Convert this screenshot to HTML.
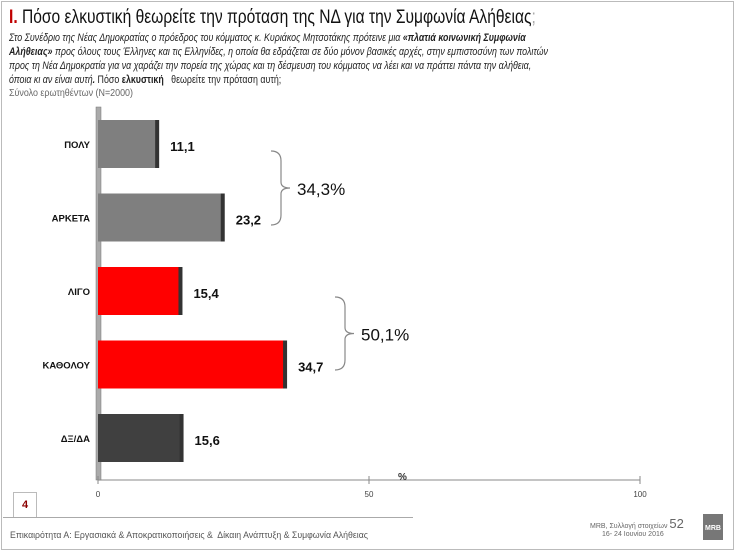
<!DOCTYPE html>
<html><head><meta charset="utf-8"><style>
body{margin:0;width:735px;height:551px;background:#fff;overflow:hidden;font-family:"Liberation Sans","DejaVu Sans",sans-serif}
.frame{position:absolute;left:1px;top:1px;width:731px;height:547px;border:1px solid #bbb}
.ql{white-space:nowrap;transform:scaleX(0.82);transform-origin:left;height:14px}
</style></head><body>
<div class="frame"></div>
<div style="position:absolute;left:9px;top:7px;font-size:19px;color:#111;white-space:nowrap;transform:scaleX(0.82);transform-origin:left"><span style="color:#c00000;font-weight:bold">I.</span> Πόσο ελκυστική θεωρείτε την πρόταση της ΝΔ για την Συμφωνία Αλήθειας<span style="color:#aaa">;</span></div>
<div style="position:absolute;left:9px;top:31px;font-size:10.8px;line-height:14px;font-style:italic;color:#222">
<div class="ql">Στο Συνέδριο της Νέας Δημοκρατίας ο πρόεδρος του κόμματος κ. Κυριάκος Μητσοτάκης πρότεινε μια <b>«πλατιά κοινωνική Συμφωνία</b></div>
<div class="ql"><b>Αλήθειας»</b> προς όλους τους Έλληνες και τις Ελληνίδες, η οποία θα εδράζεται σε δύο μόνον βασικές αρχές, στην εμπιστοσύνη των πολιτών</div>
<div class="ql">προς τη Νέα Δημοκρατία για να χαράζει την πορεία της χώρας και τη δέσμευση του κόμματος να λέει και να πράττει πάντα την αλήθεια,</div>
<div class="ql">όποια κι αν είναι αυτή<b>.</b> <span style="font-style:normal">Πόσο <b>ελκυστική</b> &nbsp; θεωρείτε την πρόταση αυτή;</span></div>
</div>
<div style="position:absolute;left:9px;top:87px;font-size:10.5px;color:#666;transform:scaleX(0.85);transform-origin:left;white-space:nowrap">Σύνολο ερωτηθέντων (Ν=2000)</div>
<svg id="chart" width="735" height="551" style="position:absolute;left:0;top:0"></svg>
<div style="position:absolute;left:13px;top:492px;width:22px;height:24px;border:1px solid #bbb;color:#8b0000;font-weight:bold;font-size:11px;text-align:center;line-height:24px">4</div>
<div style="position:absolute;left:3px;top:517px;width:410px;height:1px;background:#aaa"></div>
<div style="position:absolute;left:10px;top:530px;font-size:9.5px;color:#555;white-space:nowrap;transform:scaleX(0.92);transform-origin:left">Επικαιρότητα Α: Εργασιακά &amp; Αποκρατικοποιήσεις &amp;&nbsp; Δίκαιη Ανάπτυξη &amp; Συμφωνία Αλήθειας</div>
<div style="position:absolute;left:590px;top:516px;font-size:7px;color:#666;white-space:nowrap">MRB, Συλλογή στοιχείων <span style="font-size:13px">52</span></div>
<div style="position:absolute;left:602px;top:531px;font-size:7px;color:#666;white-space:nowrap">16- 24 Ιουνίου 2016</div>
<div style="position:absolute;left:703px;top:514px;width:20px;height:26px;background:#777;color:#fff;font-size:7px;font-weight:bold;text-align:center;line-height:30px">MRB</div>
<script>
const categories=["ΠΟΛΥ","ΑΡΚΕΤΑ","ΛΙΓΟ","ΚΑΘΟΛΟΥ","ΔΞ/ΔΑ"];
const values=[11.1,23.2,15.4,34.7,15.6];
const valueLabels=["11,1","23,2","15,4","34,7","15,6"];
const colors=["#7f7f7f","#7f7f7f","#ff0000","#ff0000","#404040"];
const ticks=[0,50,100];
const groupLabels=["34,3%","50,1%"];
const svg=document.getElementById('chart');
const NS='http://www.w3.org/2000/svg';
const x0=98,x1=640,topY=107,bandH=73.5;
const xs=v=>x0+(x1-x0)*v/100;
const yc=i=>topY+bandH*i+37;
function mk(t,a){const e=document.createElementNS(NS,t);for(const k in a)e.setAttribute(k,a[k]);svg.appendChild(e);return e;}
let ax=mk('line',{x1:x0,y1:480,x2:x1,y2:480,stroke:'#888','stroke-width':1});


let ay=mk('rect',{x:x0-2,y:topY,width:5,height:373,fill:'#aaa',stroke:'#777','stroke-width':0.5});


ticks.forEach(t=>{
 mk('line',{x1:xs(t),y1:476,x2:xs(t),y2:484,stroke:'#888'});
 const tl=mk('text',{x:xs(t),y:497,'font-size':8,'text-anchor':'middle',fill:'#444'});tl.textContent=t;
 
 
});
const pct=mk('text',{x:398,y:480,'font-size':10,'font-weight':'bold',fill:'#333'});pct.textContent='%';


categories.forEach((c,i)=>{
 const y=yc(i)-24,w=xs(values[i])-x0;
 const b=mk('rect',{x:x0,y:y,width:w,height:48,fill:colors[i]});
 
 
 mk('rect',{x:x0+w-3,y:y,width:4,height:48,fill:'#333'});
 const l=mk('text',{x:x0-8,y:yc(i)+4,'font-size':9.5,'font-weight':'bold','text-anchor':'end',fill:'#111'});l.textContent=c;
 
 
 const v=mk('text',{x:x0+w+12,y:yc(i)+7,'font-size':13,'font-weight':'bold',fill:'#111'});v.textContent=valueLabels[i];
 
 
});
function brace(x,ya,yb,label,name){
 const m=(ya+yb)/2;
 const p=mk('path',{d:`M${x-10},${ya} Q${x},${ya} ${x},${ya+10} L${x},${m-6} Q${x},${m} ${x+9},${m} Q${x},${m} ${x},${m+6} L${x},${yb-10} Q${x},${yb} ${x-10},${yb}`,fill:'none',stroke:'#888','stroke-width':1.2});
 
 
 const t=mk('text',{x:x+16,y:m+7,'font-size':17,fill:'#111'});t.textContent=label;
 
 
}
brace(281,151,225,groupLabels[0],'positive');
brace(345,297,370,groupLabels[1],'negative');
</script>
</body></html>
